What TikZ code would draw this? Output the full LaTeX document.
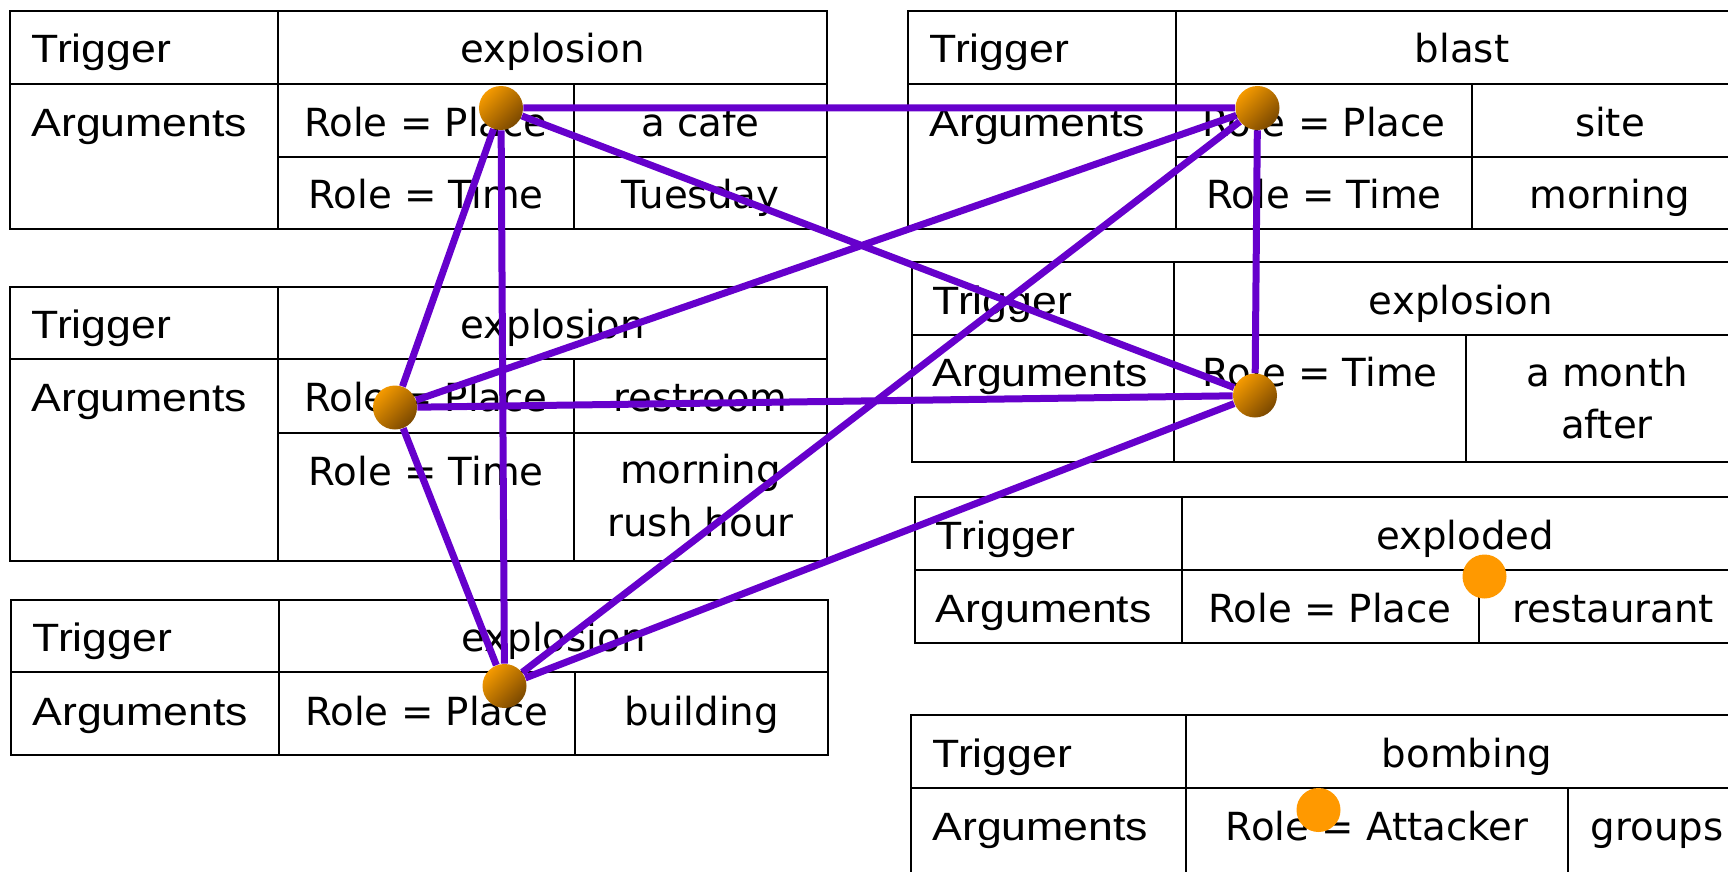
\documentclass[tikz,border=0pt]{standalone}
\usepackage{fontspec}
\usepackage{tikz}
\newfontfamily\labelfont[FakeStretch=1.13]{Liberation Sans}
\newfontfamily\cellfont{DejaVu Sans}
\definecolor{linkpurple}{HTML}{6600CC}
\definecolor{balllight}{HTML}{F59A00}
\definecolor{balldark}{HTML}{7A4800}
\definecolor{dotorange}{HTML}{FF9900}
\tikzset{
  grid/.style={line width=1pt},
  lbl/.style={anchor=base west,inner sep=0pt,font=\labelfont\fontsize{19.75}{24}\selectfont},
  cell/.style={anchor=base,inner sep=0pt,font=\cellfont\fontsize{19.35}{24}\selectfont},
  argball/.style={circle,minimum size=22pt,inner sep=0pt,top color=balllight,bottom color=balldark,shading angle=45},
  argdot/.style={circle,minimum size=22pt,inner sep=0pt,fill=dotorange},
  link/.style={linkpurple,line width=3.5pt}
}
\begin{document}
\begin{tikzpicture}[x=0.5pt,y=-0.5pt]
\useasboundingbox (0,0) rectangle (1728,872);
\clip (0,0) rectangle (1728,872);
% explosion / cafe
\draw[grid] (10,11) rectangle (827,229);
\draw[grid] (10,84)--(827,84) (278,11)--(278,229) (278,156.5)--(827,156.5) (574,84)--(574,229);
\node[lbl] (trigA) at (31,63) {Trigger};
\node[cell] (evA) at (552.5,63) {explosion};
\node[lbl] (argA) at (31,136) {Arguments};
\node[cell] (roleA1) at (426,136) {Role = Place};
\node[cell] (valA1) at (700.5,136) {a cafe};
\node[cell] (roleA2) at (426,208.5) {Role = Time};
\node[cell] (valA2) at (700.5,208.5) {Tuesday};
% explosion / restroom
\draw[grid] (10,286.5) rectangle (827,561);
\draw[grid] (10,359.3)--(827,359.3) (278,286.5)--(278,561) (278,433)--(827,433) (574,359.3)--(574,561);
\node[lbl] (trigB) at (31,338.5) {Trigger};
\node[cell] (evB) at (552.5,338.5) {explosion};
\node[lbl] (argB) at (31,411.3) {Arguments};
\node[cell] (roleB1) at (426,411.3) {Role = Place};
\node[cell] (valB1) at (700.5,411.3) {restroom};
\node[cell] (roleB2) at (426,485) {Role = Time};
\node[cell] (valB2) at (700.5,483) {morning};
\node[cell] (valB3) at (700.5,536) {rush hour};
% explosion / building
\draw[grid] (11,599.5) rectangle (828,755);
\draw[grid] (11,672)--(828,672) (279,599.5)--(279,755) (575,672)--(575,755);
\node[lbl] (trigC) at (32,651.5) {Trigger};
\node[cell] (evC) at (553.5,651.5) {explosion};
\node[lbl] (argC) at (32,725) {Arguments};
\node[cell] (roleC1) at (427,725) {Role = Place};
\node[cell] (valC1) at (701.5,725) {building};
% blast
\draw[grid] (908,11) rectangle (1748,229);
\draw[grid] (908,84)--(1748,84) (1176,11)--(1176,229) (1176,156.5)--(1748,156.5) (1472,84)--(1472,229);
\node[lbl] (trigD) at (929,63) {Trigger};
\node[cell] (evD) at (1462,63) {blast};
\node[lbl] (argD) at (929,136) {Arguments};
\node[cell] (roleD1) at (1324,136) {Role = Place};
\node[cell] (valD1) at (1610,136) {site};
\node[cell] (roleD2) at (1324,208.5) {Role = Time};
\node[cell] (valD2) at (1610,208.5) {morning};
% explosion / a month after
\draw[grid] (911.5,262) rectangle (1748,462);
\draw[grid] (911.5,334.5)--(1748,334.5) (1174,262)--(1174,462) (1466,334.5)--(1466,462);
\node[lbl] (trigE) at (932,314) {Trigger};
\node[cell] (evE) at (1461,314) {explosion};
\node[lbl] (argE) at (932,386.5) {Arguments};
\node[cell] (roleE1) at (1320,386.5) {Role = Time};
\node[cell] (valE1) at (1607,386.5) {a month};
\node[cell] (valE2) at (1607,438.5) {after};
% exploded
\draw[grid] (914.5,497) rectangle (1748,643);
\draw[grid] (914.5,570)--(1748,570) (1181.5,497)--(1181.5,643) (1478.5,570)--(1478.5,643);
\node[lbl] (trigF) at (935.5,549) {Trigger};
\node[cell] (evF) at (1465,549) {exploded};
\node[lbl] (argF) at (935.5,622) {Arguments};
\node[cell] (roleF1) at (1330,622) {Role = Place};
\node[cell] (valF1) at (1613,622) {restaurant};
% bombing
\draw[grid] (911,715) rectangle (1748,880);
\draw[grid] (911,788)--(1748,788) (1186,715)--(1186,880) (1567.5,788)--(1567.5,880);
\node[lbl] (trigG) at (932,767) {Trigger};
\node[cell] (evG) at (1467,767) {bombing};
\node[lbl] (argG) at (932,840) {Arguments};
\node[cell] (roleG1) at (1377,840) {Role = Attacker};
\node[cell] (valG1) at (1657,840) {groups};
% arguments linked across events
\node[argball] (p1) at (501,108) {};
\node[argball] (p2) at (1257.5,108) {};
\node[argball] (p3) at (395,407.5) {};
\node[argball] (p4) at (1255,395.5) {};
\node[argball] (p5) at (504.5,686) {};
\draw[link] (p1)--(p2) (p1)--(p3) (p1)--(p4) (p1)--(p5)
  (p2)--(p3) (p2)--(p4) (p2)--(p5)
  (p3)--(p4) (p3)--(p5) (p4)--(p5);
% unlinked arguments
\node[argdot] (q1) at (1484.5,576.5) {};
\node[argdot] (q2) at (1318.5,810) {};
\end{tikzpicture}
\end{document}
